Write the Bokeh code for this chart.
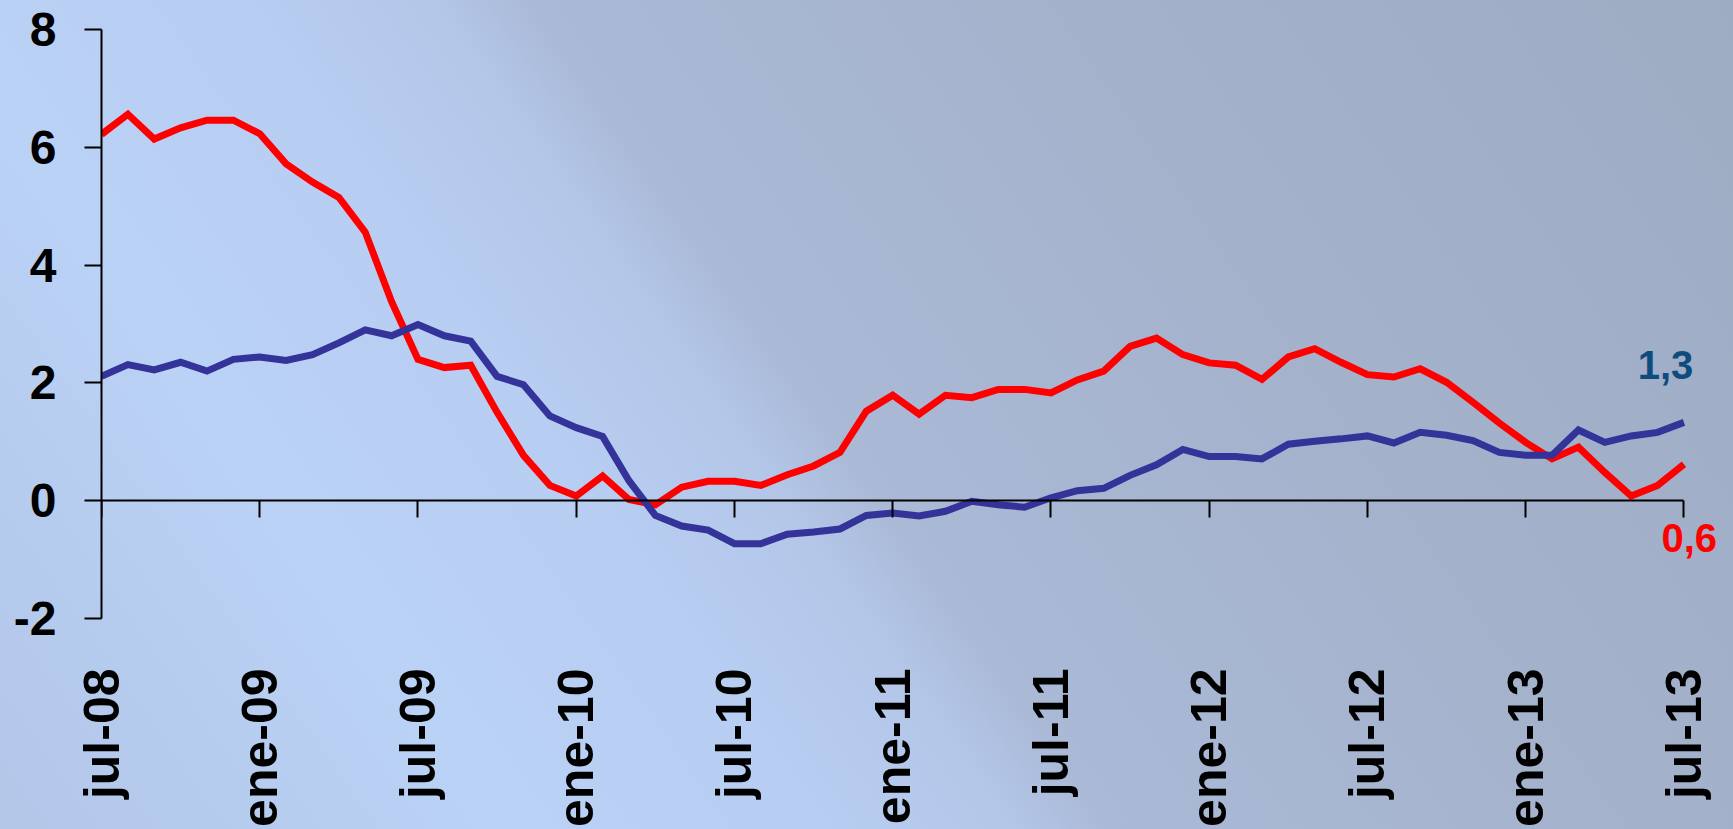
import math
from bokeh.plotting import figure
from bokeh.models import LinearAxis, FixedTicker, Label, CustomJSTickFormatter, Range1d
from bokeh.embed import file_html
from bokeh.resources import INLINE

# ---- data (monthly, jul-08 .. jul-13) ----
months = list(range(61))
tick_labels = ["jul-08", "ene-09", "jul-09", "ene-10", "jul-10", "ene-11",
               "jul-11", "ene-12", "jul-12", "ene-13", "jul-13"]
y_ticks = [-2, 0, 2, 4, 6, 8]
y_tick_labels = ["-2", "0", "2", "4", "6", "8"]

red_series = [6.22, 6.56, 6.14, 6.33, 6.46, 6.46, 6.23, 5.72, 5.41, 5.15, 4.56,
              3.38, 2.40, 2.26, 2.30, 1.50, 0.77, 0.26, 0.08, 0.42, 0.02, -0.07,
              0.23, 0.33, 0.33, 0.26, 0.44, 0.59, 0.82, 1.52, 1.79, 1.47, 1.79,
              1.75, 1.89, 1.89, 1.83, 2.05, 2.20, 2.62, 2.76, 2.48, 2.34, 2.30,
              2.06, 2.44, 2.58, 2.35, 2.14, 2.10, 2.24, 2.01, 1.67, 1.32, 0.99,
              0.71, 0.91, 0.48, 0.08, 0.26, 0.62]
blue_series = [2.11, 2.31, 2.22, 2.35, 2.20, 2.40, 2.44, 2.38, 2.48, 2.68, 2.90,
               2.80, 2.99, 2.80, 2.71, 2.11, 1.97, 1.44, 1.24, 1.09, 0.34, -0.25,
               -0.43, -0.50, -0.73, -0.73, -0.57, -0.53, -0.48, -0.25, -0.21,
               -0.26, -0.18, -0.01, -0.07, -0.11, 0.05, 0.17, 0.21, 0.43, 0.61,
               0.87, 0.75, 0.75, 0.71, 0.96, 1.01, 1.05, 1.10, 0.98, 1.16, 1.11,
               1.02, 0.82, 0.77, 0.77, 1.20, 0.99, 1.10, 1.16, 1.33]
blue_end_label = "1,3"
red_end_label = "0,6"

FONT = "Liberation Sans"
tick_pos = list(range(0, 61, 6))

p = figure(width=1733, height=829,
           x_range=Range1d(0, 61.5), y_range=Range1d(-2, 8),
           output_backend="svg", toolbar_location=None,
           min_border_left=101, min_border_right=10,
           min_border_top=29, min_border_bottom=210)
p.background_fill_alpha = 0
p.border_fill_alpha = 0
p.outline_line_color = None
p.grid.visible = False

# bottom axis: labels only
xa = p.xaxis[0]
xa.ticker = FixedTicker(ticks=tick_pos)
xa.major_label_overrides = {t: l for t, l in zip(tick_pos, tick_labels)}
xa.axis_line_color = None
xa.major_tick_line_color = None
xa.minor_tick_line_color = None
xa.major_label_orientation = math.pi / 2
xa.major_label_standoff = 44
xa.major_label_text_font = FONT
xa.major_label_text_font_style = "bold"
xa.major_label_text_font_size = "50px"
xa.major_label_text_color = "black"

# y axis
ya = p.yaxis[0]
ya.ticker = FixedTicker(ticks=y_ticks)
ya.major_label_overrides = {t: l for t, l in zip(y_ticks, y_tick_labels)}
ya.bounds = (-2, 8)
ya.axis_line_width = 2
ya.axis_line_color = "black"
ya.major_tick_out = 17
ya.major_tick_in = 0
ya.major_tick_line_width = 2
ya.minor_tick_line_color = None
ya.major_label_standoff = 28
ya.major_label_text_font = FONT
ya.major_label_text_font_style = "bold"
ya.major_label_text_font_size = "48px"
ya.major_label_text_color = "black"

# zero line axis with ticks
zero_axis = LinearAxis(fixed_location=0, ticker=FixedTicker(ticks=tick_pos),
                       formatter=CustomJSTickFormatter(code="return ''"),
                       bounds=(0, 60),
                       axis_line_width=2, axis_line_color="black",
                       major_tick_out=17, major_tick_in=0,
                       major_tick_line_width=2, minor_tick_line_color=None)
p.add_layout(zero_axis, "below")

p.line(months, red_series, line_color="#FF0000", line_width=7, line_join="miter")
p.line(months, blue_series, line_color="#333399", line_width=7, line_join="miter")

p.add_layout(Label(x=59.3, y=2.31, text=blue_end_label, text_color="#0E4C7E",
                   text_font=FONT, text_font_style="bold", text_font_size="40px",
                   text_align="center", text_baseline="middle"))
p.add_layout(Label(x=60.2, y=-0.64, text=red_end_label, text_color="#FF0000",
                   text_font=FONT, text_font_style="bold", text_font_size="40px",
                   text_align="center", text_baseline="middle"))

html = file_html(p, INLINE, title="chart")
style = ("<style>html{height:100%;overflow:hidden;background:linear-gradient(55deg,"
         "#B2C6E8 0%,#BAD2F6 22%,#B7CDF1 36%,#B3C6E8 44%,#AAB9D6 48%,"
         "#A4B2CC 70%,#9DABC3 100%) fixed;}"
         "body{margin:0;overflow:hidden;background:transparent;}</style>")
html = html.replace("</head>", style + "</head>", 1)
open("out.html", "w").write(html)
